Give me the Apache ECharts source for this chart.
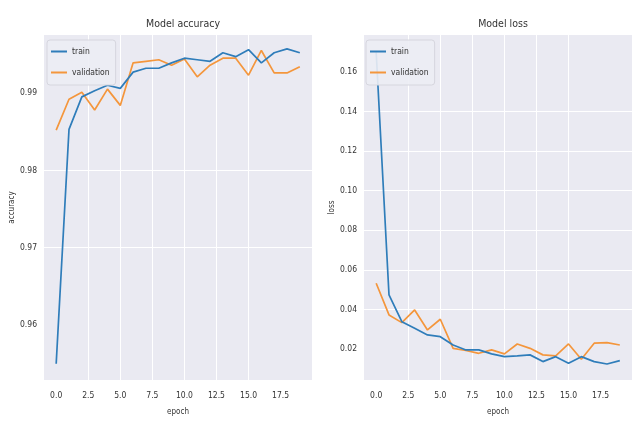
<!DOCTYPE html>
<html>
<head>
<meta charset="utf-8">
<script src="https://cdn.jsdelivr.net/npm/echarts@6/dist/echarts.min.js"></script>
<style>
html,body{margin:0;padding:0;background:#fff;}
#c{width:637px;height:421px;}
</style>
</head>
<body>
<div id="c"></div>
<script>
const epochs = [0,1,2,3,4,5,6,7,8,9,10,11,12,13,14,15,16,17,18,19];
const accTrain = [0.9550,0.9853,0.9895,0.9903,0.9910,0.9906,0.9927,0.9932,0.9932,0.9939,0.9945,0.9943,0.9941,0.9952,0.9947,0.9956,0.9939,0.9952,0.9957,0.9952];
const accVal = [0.9852,0.9892,0.9901,0.9878,0.9905,0.9884,0.9939,0.9941,0.9943,0.9936,0.9944,0.9921,0.9936,0.9945,0.9945,0.9923,0.9955,0.9926,0.9926,0.9934];
const lossTrain = [0.1700,0.0473,0.0338,0.0305,0.0271,0.0262,0.0220,0.0195,0.0195,0.0175,0.0161,0.0165,0.0170,0.0136,0.0161,0.0128,0.0161,0.0136,0.0124,0.0141];
const lossVal = [0.0532,0.0372,0.0333,0.0397,0.0296,0.0350,0.0203,0.0192,0.0178,0.0195,0.0175,0.0225,0.0203,0.0170,0.0165,0.0225,0.0148,0.0229,0.0232,0.0220];
const xTicks = [0,2.5,5,7.5,10,12.5,15,17.5];
const accTicks = [0.96,0.97,0.98,0.99];
const lossTicks = [0.02,0.04,0.06,0.08,0.10,0.12,0.14,0.16];

const BLUE = '#2f7dba', ORANGE = '#f4963c';
const FONT = '"DejaVu Sans Condensed", "Liberation Sans Narrow", "DejaVu Sans", sans-serif';
function pairs(ys){ return epochs.map((e,i)=>[e, ys[i]]); }

function xAxis(gi){
  return {
    type:'value', gridIndex:gi, min:-0.95, max:19.95,
    name:'epoch', nameLocation:'middle', nameGap:28,
    nameTextStyle:{fontFamily:FONT, fontSize:8, color:'#333'},
    axisLine:{show:false}, axisTick:{show:false, customValues:xTicks},
    axisLabel:{fontFamily:FONT, fontSize:8.5, color:'#333', margin:11, customValues:xTicks,
      formatter: v => Number(v).toFixed(1)},
    splitLine:{show:true, showMinLine:false, showMaxLine:false, lineStyle:{color:'#ffffff', width:1}}
  };
}
function yAxis(gi, min, max, ticks, name, gap){
  return {
    type:'value', gridIndex:gi, min:min, max:max,
    name:name, nameLocation:'middle', nameGap:gap, nameRotate:90,
    nameTextStyle:{fontFamily:FONT, fontSize:8, color:'#333'},
    axisLine:{show:false}, axisTick:{show:false, customValues:ticks},
    axisLabel:{fontFamily:FONT, fontSize:8.5, color:'#333', margin:7, customValues:ticks,
      formatter: v => Number(v).toFixed(2)},
    splitLine:{show:true, showMinLine:false, showMaxLine:false, lineStyle:{color:'#ffffff', width:1}}
  };
}
function line(name, data, color, xi){
  return {type:'line', name:name, xAxisIndex:xi, yAxisIndex:xi, data:pairs(data),
    symbol:'none', showSymbol:false, lineStyle:{color:color, width:1.7}, itemStyle:{color:color},
    z: name==='train'?3:2, animation:false};
}
function legend(left){
  return {orient:'vertical', left:left, top:40, data:['train','validation'],
    icon:'rect', itemWidth:16, itemHeight:2, itemGap:12, padding:[7,6,8,4],
    backgroundColor:'rgba(236,237,244,0.9)', borderColor:'#d6d6de', borderWidth:1, borderRadius:3,
    textStyle:{fontFamily:FONT, fontSize:8.5, color:'#333'}};
}

const chart = echarts.init(document.getElementById('c'), null, {renderer:'canvas'});
chart.setOption({
  backgroundColor:'#ffffff',
  animation:false,
  title:[
    {text:'Model accuracy', left:178, top:14, textAlign:'center', textStyle:{fontFamily:FONT, fontSize:10.5, fontWeight:'normal', color:'#333'}},
    {text:'Model loss', left:498, top:14, textAlign:'center', textStyle:{fontFamily:FONT, fontSize:10.5, fontWeight:'normal', color:'#333'}}
  ],
  legend:[legend(47), legend(366)],
  grid:[
    {left:44, top:35, width:268, height:345, show:true, backgroundColor:'#eaeaf2', borderWidth:0},
    {left:364, top:35, width:268, height:345, show:true, backgroundColor:'#eaeaf2', borderWidth:0}
  ],
  xAxis:[xAxis(0), xAxis(1)],
  yAxis:[
    yAxis(0, 0.9529, 0.9975, accTicks, 'accuracy', 26),
    yAxis(1, 0.0043, 0.1787, lossTicks, 'loss', 25)
  ],
  series:[
    line('train', accTrain, BLUE, 0),
    line('validation', accVal, ORANGE, 0),
    line('train', lossTrain, BLUE, 1),
    line('validation', lossVal, ORANGE, 1)
  ]
});
</script>
</body>
</html>
